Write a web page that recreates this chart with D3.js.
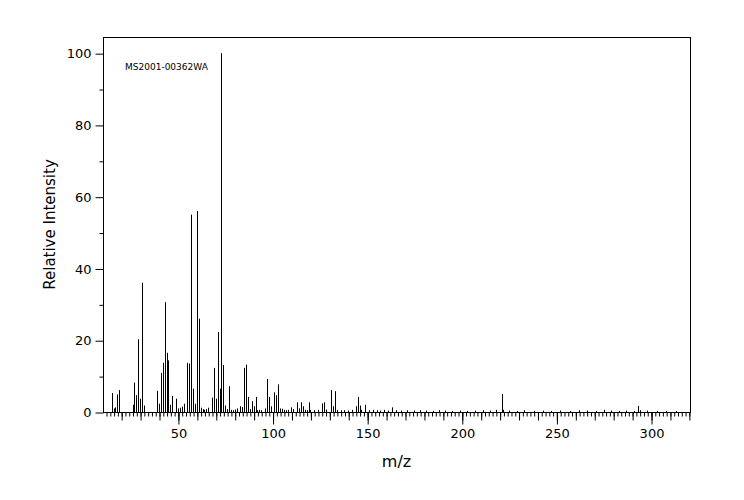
<!DOCTYPE html>
<html>
<head>
<meta charset="utf-8">
<script src="https://cdn.jsdelivr.net/npm/d3@7"></script>
<style>
  body { margin: 0; background: #fff; }
  text { font-family: "DejaVu Sans", sans-serif; fill: #000; }
</style>
</head>
<body>
<svg id="chart" width="744" height="500"></svg>
<script>
// peaks: m/z and relative intensity
const mzValues = [15, 16, 17, 18, 19, 26, 27, 28, 29, 30, 31, 32, 39, 40, 41, 42, 43, 44, 45, 46, 47, 49, 50, 51, 52, 53,
  55, 56, 57, 58, 59, 60, 61, 62, 63, 64, 65, 66, 68, 69, 70, 71, 72, 73, 74, 75, 76, 77, 78, 79, 80, 81,
  83, 84, 85, 86, 87, 88, 89, 90, 91, 92, 93, 94, 96, 97, 98, 99, 101, 102, 103, 104, 105, 106, 107, 108,
  110, 111, 113, 114, 115, 116, 117, 118, 119, 120, 122, 124, 126, 127, 128, 131, 132, 133, 134, 136, 138,
  140, 142, 144, 145, 146, 147, 149, 151, 153, 155, 157, 159, 161, 163, 165, 168, 171, 175, 178, 181, 185,
  188, 191, 195, 199, 203, 207, 211, 215, 218, 221, 222, 225, 229, 233, 238, 243, 247, 252, 257, 262, 266,
  271, 275, 279, 283, 287, 291, 293, 294, 298, 303, 308, 313];
const intensities = [5.3, 1, 1.3, 4.9, 6.1, 2, 8.2, 4.7, 20.3, 3.7, 36, 1.8, 5.9, 2.3, 10.9, 13.7, 30.6, 16.5, 14.4, 2, 4.5, 3.7, 1, 1.2, 1.5, 2.3,
  13.7, 13.5, 55, 6.5, 2.3, 56, 26, 1.2, 0.8, 0.6, 0.8, 1.2, 4, 12.3, 3.7, 22.3, 6.5, 100, 13.1, 1.8, 0.8, 7.2, 0.6, 0.5, 0.7, 1,
  1.6, 1.4, 12.3, 13.2, 4.2, 0.8, 3, 1.6, 4.2, 0.5, 0.6, 0.5, 1, 9.2, 4.2, 1.6, 5.5, 4.7, 7.7, 1, 0.9, 0.6, 0.5, 0.6,
  1.3, 0.8, 2.7, 1, 2.7, 1.6, 0.6, 0.5, 2.7, 0.6, 0.5, 0.6, 2.4, 2.7, 0.7, 6.1, 1.6, 5.8, 0.6, 0.5, 0.5,
  0.4, 0.6, 1.6, 4.2, 1.8, 0.6, 2, 0.5, 0.6, 0.5, 0.4, 0.6, 0.4, 1.3, 0.5, 0.4, 0.5, 0.4, 0.5, 0.4, 0.3,
  0.5, 0.4, 0.3, 0.4, 0.3, 0.4, 0.5, 0.4, 0.6, 5, 0.6, 0.4, 0.3, 0.5, 0.3, 0.4, 0.3, 0.4, 0.3, 0.5, 0.4,
  0.3, 0.6, 0.4, 0.3, 0.4, 0.3, 1.7, 0.5, 0.4, 0.3, 0.3, 0.3];
const xTickLabels = [50, 100, 150, 200, 250, 300];
const yTickLabels = [0, 20, 40, 60, 80, 100];
const sampleId = "MS2001-00362WA";

const svg = d3.select("#chart");
const margin = { top: 37, right: 54, bottom: 88, left: 103 };
const width = 744, height = 500;

const x = d3.scaleLinear().domain([10.4, 320.6]).range([margin.left, width - margin.right]);
const y = d3.scaleLinear().domain([0, 104.5]).range([height - margin.bottom, margin.top]);

const peaks = mzValues.map((m, i) => ({ mz: m, value: intensities[i] }));

svg.append("g")
  .selectAll("line")
  .data(peaks)
  .enter()
  .append("line")
  .attr("x1", d => Math.round(x(d.mz)) + 0.5)
  .attr("x2", d => Math.round(x(d.mz)) + 0.5)
  .attr("y1", y(0))
  .attr("y2", d => y(d.value))
  .attr("stroke", "#000")
  .attr("stroke-width", 1);

// frame
svg.append("rect")
  .attr("x", margin.left + 0.5)
  .attr("y", margin.top + 0.5)
  .attr("width", width - margin.left - margin.right)
  .attr("height", height - margin.top - margin.bottom)
  .attr("fill", "none")
  .attr("stroke", "#000");

// x axis: minor every 2, medium every 10, labelled every 50
const xAxisG = svg.append("g").attr("transform", `translate(0.5,${y(0) + 0.5})`);
xAxisG.call(d3.axisBottom(x).tickValues(d3.range(12, 321, 2)).tickSize(4).tickFormat(""))
  .call(g => g.select(".domain").remove());
xAxisG.append("g").call(d3.axisBottom(x).tickValues(d3.range(20, 321, 10)).tickSize(8).tickFormat(""))
  .call(g => g.select(".domain").remove());
xAxisG.append("g").call(d3.axisBottom(x).tickValues(xTickLabels).tickSize(12).tickPadding(4))
  .call(g => g.select(".domain").remove())
  .call(g => g.selectAll("text").style("font-size", "13px").style("font-family", "DejaVu Sans"));

// y axis
const yAxisG = svg.append("g").attr("transform", `translate(${margin.left + 0.5},0.5)`);
yAxisG.call(d3.axisLeft(y).tickValues(d3.range(10, 101, 20)).tickSize(4).tickFormat(""))
  .call(g => g.select(".domain").remove());
yAxisG.append("g").call(d3.axisLeft(y).tickValues(yTickLabels).tickSize(8).tickPadding(4))
  .call(g => g.select(".domain").remove())
  .call(g => g.selectAll("text").style("font-size", "13px").style("font-family", "DejaVu Sans"));

svg.selectAll(".tick line").attr("stroke", "#000");

svg.append("text")
  .attr("x", 125).attr("y", 70)
  .style("font-size", "9px")
  .text(sampleId);

svg.append("text")
  .attr("x", (margin.left + width - margin.right) / 2)
  .attr("y", 467)
  .attr("text-anchor", "middle")
  .style("font-size", "16px")
  .text("m/z");

svg.append("text")
  .attr("transform", "rotate(-90)")
  .attr("x", -(margin.top + y(0)) / 2)
  .attr("y", 55)
  .attr("text-anchor", "middle")
  .style("font-size", "15px")
  .text("Relative Intensity");
</script>
</body>
</html>
